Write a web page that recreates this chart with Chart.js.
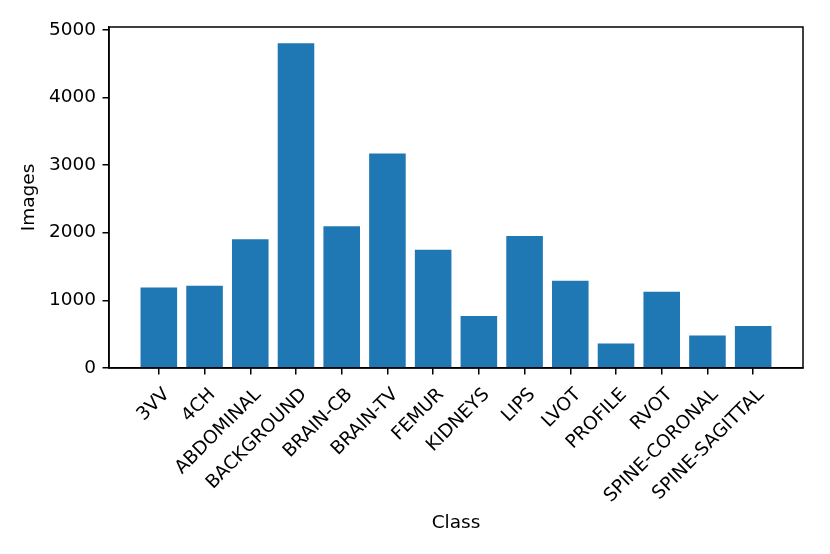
<!DOCTYPE html>
<html>
<head>
<meta charset="utf-8">
<script src="https://cdn.jsdelivr.net/npm/chart.js@4"></script>
<style>
  html, body { margin: 0; padding: 0; background: #fff; }
  #chart { display: block; }
</style>
</head>
<body>
<canvas id="chart" width="830" height="554"></canvas>
<script>
// class names on the x axis
const classes = ['3VV', '4CH', 'ABDOMINAL', 'BACKGROUND', 'BRAIN-CB', 'BRAIN-TV', 'FEMUR',
  'KIDNEYS', 'LIPS', 'LVOT', 'PROFILE', 'RVOT', 'SPINE-CORONAL', 'SPINE-SAGITTAL'];

// number of images per class
const imageCounts = [1191, 1215, 1902, 4800, 2095, 3170, 1748, 770, 1951, 1289, 361, 1126, 480, 622];

// y axis ticks
const yTicks = [0, 1000, 2000, 3000, 4000, 5000];

const font = { family: 'DejaVu Sans', size: 18.5 };

// draw the box round the plot, like matplotlib spines
const frame = {
  id: 'frame',
  afterDraw(chart) {
    const a = chart.chartArea;
    const ctx = chart.ctx;
    ctx.save();
    ctx.strokeStyle = '#000';
    ctx.lineWidth = 1.5;
    ctx.strokeRect(a.left, a.top, a.right - a.left, a.bottom - a.top);
    ctx.restore();
  }
};

new Chart(document.getElementById('chart'), {
  type: 'bar',
  data: {
    datasets: [{
      label: 'Images',
      data: imageCounts.map((v, i) => ({ x: i, y: v })),
      backgroundColor: '#1f77b4',
      borderWidth: 0,
      barPercentage: 0.8,
      categoryPercentage: 1.0
    }]
  },
  options: {
    responsive: false,
    animation: false,
    layout: { padding: { left: 0, top: 27, right: 27, bottom: 0 } },
    plugins: { legend: { display: false }, tooltip: { enabled: false } },
    scales: {
      x: {
        type: 'linear',
        offset: false,
        min: -1.09,
        max: classes.length - 1 + 1.09,
        afterBuildTicks: s => { s.ticks = classes.map((c, i) => ({ value: i })); },
        afterFit: s => { s.height = 186; },
        grid: { offset: false, drawOnChartArea: false, drawTicks: true, tickLength: 6.5, lineWidth: 1.5, color: '#000' },
        border: { display: true, color: '#000', width: 1.5 },
        ticks: {
          autoSkip: false,
          minRotation: 45,
          maxRotation: 45,
          padding: 9.4,
          color: '#000',
          font: font,
          // transparent backdrop keeps the label end to the right of the tick, as in matplotlib
          showLabelBackdrop: true,
          backdropColor: 'rgba(0,0,0,0)',
          backdropPadding: 0,
          callback: v => classes[v]
        },
        title: { display: true, text: 'Class', color: '#000', font: font, padding: { top: 0, bottom: 20 } }
      },
      y: {
        min: 0,
        max: 5040,
        afterBuildTicks: s => { s.ticks = yTicks.map(v => ({ value: v })); },
        afterFit: s => { s.width = 109; },
        grid: { drawOnChartArea: false, drawTicks: true, tickLength: 6.5, lineWidth: 1.5, color: '#000' },
        border: { display: true, color: '#000', width: 1.5 },
        ticks: { padding: 6.5, color: '#000', font: font, callback: v => String(v) },
        title: { display: true, text: 'Images', color: '#000', font: font, padding: { top: 18, bottom: 0 } }
      }
    }
  },
  plugins: [frame]
});
</script>
</body>
</html>
